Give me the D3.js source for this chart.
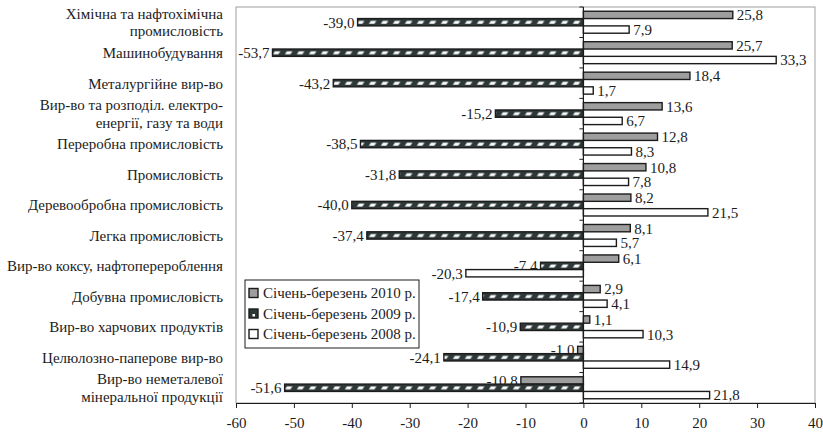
<!DOCTYPE html>
<html>
<head>
<meta charset="utf-8">
<script src="https://cdn.jsdelivr.net/npm/d3@7"></script>
<style>
  html, body { margin: 0; padding: 0; background: #fff; }
  svg { display: block; }
  svg text { font-family: "Liberation Serif", "Times New Roman", "DejaVu Serif", serif; }
</style>
</head>
<body>
<svg id="chart" width="823" height="432"></svg>
<script>
// Industry groups, top to bottom (a "|" marks a line break in the label)
const categories = [
  "Хімічна та нафтохімічна|промисловість",
  "Машинобудування",
  "Металургійне вир-во",
  "Вир-во та розподіл. електро-|енергії, газу та води",
  "Переробна промисловість",
  "Промисловість",
  "Деревообробна промисловість",
  "Легка промисловість",
  "Вир-во коксу, нафтоперероблення",
  "Добувна промисловість",
  "Вир-во харчових продуктів",
  "Целюлозно-паперове вир-во",
  "Вир-во неметалевої|мінеральної продукції"
];

const seriesNames = [
  "Січень-березень 2010 р.",
  "Січень-березень 2009 р.",
  "Січень-березень 2008 р."
];

// Change in output, %, for each period
const values2010 = [25.8, 25.7, 18.4, 13.6, 12.8, 10.8, 8.2, 8.1, 6.1, 2.9, 1.1, -1.0, -10.8];
const values2009 = [-39.0, -53.7, -43.2, -15.2, -38.5, -31.8, -40.0, -37.4, -7.4, -17.4, -10.9, -24.1, -51.6];
const values2008 = [7.9, 33.3, 1.7, 6.7, 8.3, 7.8, 21.5, 5.7, -20.3, 4.1, 10.3, 14.9, 21.8];

const xTicks = [-60, -50, -40, -30, -20, -10, 0, 10, 20, 30, 40];

const seriesValues = [values2010, values2009, values2008];
const seriesKeys = ["s2010", "s2009", "s2008"];

const serif = "Liberation Serif, Times New Roman, DejaVu Serif, serif";
const svg = d3.select("#chart").attr("font-family", serif);
const plot = { left: 236, right: 815, top: 7, bottom: 403 };
const ink = "#1c1c1c";
const fontSize = 15;

const x = d3.scaleLinear().domain([-60, 40]).range([plot.left, plot.right]);
const y = d3.scaleBand().domain(d3.range(categories.length)).range([plot.top, plot.bottom]);
const ySub = d3.scaleBand().domain(seriesKeys).range([0, y.bandwidth()]).paddingInner(0).paddingOuter(0.58);
const barH = ySub.bandwidth();

// Hatched fill for the 2009 series: dark ground with light slanted dashes
const defs = svg.append("defs");
const pat = defs.append("pattern")
  .attr("id", "hatch")
  .attr("patternUnits", "userSpaceOnUse")
  .attr("width", 12)
  .attr("height", barH);
pat.append("rect").attr("width", 12).attr("height", barH).attr("fill", "#2e3838");
pat.append("polygon")
  .attr("points", `1.5,${barH * 0.72} 7,${barH * 0.72} 9,${barH * 0.3} 3.5,${barH * 0.3}`)
  .attr("fill", "#ffffff");

const fills = { s2010: "#9e9e9e", s2009: "url(#hatch)", s2008: "#ffffff" };

// Plot frame
svg.append("rect")
  .attr("x", plot.left).attr("y", plot.top)
  .attr("width", plot.right - plot.left).attr("height", plot.bottom - plot.top)
  .attr("fill", "none").attr("stroke", "#a0a0a0").attr("stroke-width", 1);

// Bottom value axis
const xAxis = d3.axisBottom(x).tickValues(xTicks).tickSize(5).tickSizeOuter(0);
const gx = svg.append("g").attr("transform", `translate(0,${plot.bottom})`).call(xAxis)
  .attr("font-family", serif).attr("font-size", fontSize);
gx.select(".domain").attr("stroke", ink).attr("stroke-width", 1.2);
gx.selectAll(".tick line").attr("stroke", ink);
gx.selectAll(".tick text")
  .attr("fill", ink).attr("y", 14)
  .text(d => String(d));

// Data labels (drawn beneath the bars, so overlapping bars cover them)
const fmt = v => v.toFixed(1).replace(".", ",");
const labelLayer = svg.append("g").attr("font-size", fontSize).attr("fill", ink);
const barLayer = svg.append("g");

seriesKeys.forEach((key, si) => {
  const vals = seriesValues[si];
  labelLayer.selectAll(`text.${key}`)
    .data(vals)
    .join("text")
    .attr("class", key)
    .attr("x", d => d >= 0 ? x(d) + 4 : x(d) - 3)
    .attr("y", (d, i) => y(i) + ySub(key) + barH / 2)
    .attr("dy", "0.36em")
    .attr("text-anchor", d => d >= 0 ? "start" : "end")
    .text(fmt);

  const g = barLayer.selectAll(`g.${key}`)
    .data(vals)
    .join("g")
    .attr("class", key)
    .attr("transform", (d, i) => `translate(${x(0)},${y(i) + ySub(key)})`);
  g.append("rect")
    .attr("x", d => Math.min(x(d), x(0)) - x(0))
    .attr("y", 0)
    .attr("width", d => Math.abs(x(d) - x(0)))
    .attr("height", barH)
    .attr("fill", fills[key])
    .attr("stroke", ink)
    .attr("stroke-width", 1.4);
});

// Zero axis with category boundary ticks
const gz = svg.append("g");
gz.append("line")
  .attr("x1", x(0)).attr("x2", x(0))
  .attr("y1", plot.top).attr("y2", plot.bottom)
  .attr("stroke", ink).attr("stroke-width", 1.2);
gz.selectAll("line.cat")
  .data(d3.range(categories.length + 1))
  .join("line")
  .attr("class", "cat")
  .attr("x1", x(0) - 4).attr("x2", x(0))
  .attr("y1", i => plot.top + i * y.step())
  .attr("y2", i => plot.top + i * y.step())
  .attr("stroke", ink).attr("stroke-width", 1);

// Category labels
const catG = svg.append("g")
  .attr("font-size", fontSize).attr("fill", ink).attr("text-anchor", "end");
categories.forEach((c, i) => {
  const lines = c.split("|");
  const cy = y(i) + y.bandwidth() / 2;
  const lh = 17.5;
  lines.forEach((ln, k) => {
    catG.append("text")
      .attr("x", 223)
      .attr("y", cy + (k - (lines.length - 1) / 2) * lh)
      .attr("dy", "0.36em")
      .text(ln);
  });
});

// Legend
const lg = svg.append("g").attr("transform", "translate(245,280)");
lg.append("rect").attr("width", 174).attr("height", 68)
  .attr("fill", "#fff").attr("stroke", ink).attr("stroke-width", 1);
seriesKeys.forEach((key, si) => {
  const row = lg.append("g").attr("transform", `translate(4,${13 + si * 20.5})`);
  row.append("rect").attr("x", 0).attr("y", -4.5).attr("width", 9).attr("height", 9)
    .attr("fill", key === "s2009" ? "#2e3838" : fills[key])
    .attr("stroke", ink).attr("stroke-width", 1.4);
  if (key === "s2009") {
    row.append("rect").attr("x", 3.5).attr("y", 0.5).attr("width", 2.5).attr("height", 2.5).attr("fill", "#fff");
  }
  row.append("text").attr("x", 14).attr("y", 0).attr("dy", "0.36em")
    .attr("font-size", fontSize).attr("fill", ink)
    .text(seriesNames[si]);
});
</script>
</body>
</html>
